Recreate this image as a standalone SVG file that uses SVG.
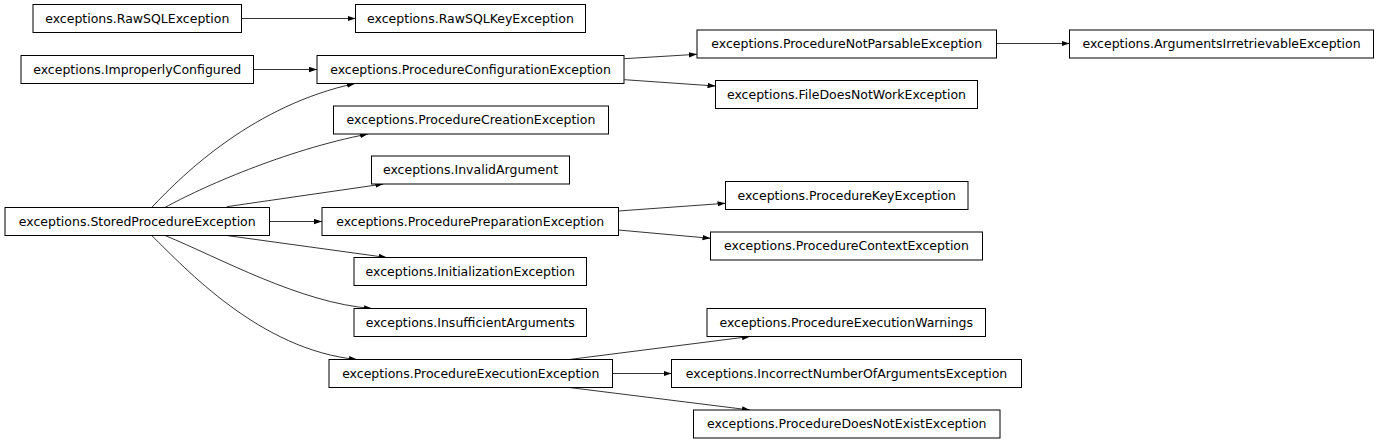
<svg xmlns="http://www.w3.org/2000/svg" width="1379" height="443" viewBox="0 0 1379 443">
<style>
.n rect{fill:#fff;stroke:#000;stroke-width:1}
.n text{font-family:"DejaVu Sans",sans-serif;font-size:12.5px;fill:#000;text-anchor:middle}
.e path{fill:none;stroke:#000;stroke-width:0.8;marker-end:url(#ah)}
</style>
<defs>
<marker id="ah" markerUnits="userSpaceOnUse" markerWidth="8" markerHeight="6" viewBox="0 0 8 5.4" refX="8" refY="2.7" orient="auto">
<path d="M0,0 L8,2.7 L0,5.4 z" fill="#000"/>
</marker>
</defs>
<rect width="1379" height="443" fill="#fff"/>
<g id="edges" class="e">
<path d="M241.5,18.5 L355.5,18.5"/>
<path d="M253.5,69.5 L317,69.5"/>
<path d="M624.3,58.7 L697,54.3"/>
<path d="M624.3,79.7 L715.5,86"/>
<path d="M996.5,43.5 L1069.5,43.5"/>
<path d="M151.7,207.5 C185,172 255,105 355,83.5"/>
<path d="M165,207.5 C200,188 285,150 368,134"/>
<path d="M226.7,206.7 L383.3,184"/>
<path d="M269.5,221.5 L322,221.5"/>
<path d="M226.7,235.5 L386.7,257.5"/>
<path d="M165,235.5 C220,258 300,303 372,308.5"/>
<path d="M151.7,235.5 C185,268 260,350 357,359.5"/>
<path d="M618.3,211 L725.5,203.3"/>
<path d="M618.3,230 L710.5,238.3"/>
<path d="M569.3,359.5 L750,336.5"/>
<path d="M612.5,373.5 L671.5,373.5"/>
<path d="M569.3,387.5 L750,410"/>
</g>
<g id="n1" class="n"><rect x="33" y="4.5" width="208.5" height="28"/><text x="137.25" y="22.9">exceptions.RawSQLException</text></g>
<g id="n2" class="n"><rect x="355.5" y="4.5" width="230" height="28"/><text x="470.5" y="22.9">exceptions.RawSQLKeyException</text></g>
<g id="n3" class="n"><rect x="21" y="55.5" width="232.5" height="28"/><text x="137.25" y="73.9">exceptions.ImproperlyConfigured</text></g>
<g id="n4" class="n"><rect x="317" y="55.5" width="307" height="28"/><text x="470.5" y="73.9">exceptions.ProcedureConfigurationException</text></g>
<g id="n5" class="n"><rect x="697" y="30" width="299.5" height="28"/><text x="846.75" y="48.4">exceptions.ProcedureNotParsableException</text></g>
<g id="n6" class="n"><rect x="1069.5" y="30" width="304" height="28"/><text x="1221.5" y="48.4">exceptions.ArgumentsIrretrievableException</text></g>
<g id="n7" class="n"><rect x="715.5" y="80.5" width="262" height="28"/><text x="846.5" y="98.9">exceptions.FileDoesNotWorkException</text></g>
<g id="n8" class="n"><rect x="333.5" y="106" width="275" height="28"/><text x="471" y="124.4">exceptions.ProcedureCreationException</text></g>
<g id="n9" class="n"><rect x="371.5" y="156" width="198" height="28"/><text x="470.5" y="174.4">exceptions.InvalidArgument</text></g>
<g id="n10" class="n"><rect x="5" y="207.5" width="264.5" height="28"/><text x="137.25" y="225.9">exceptions.StoredProcedureException</text></g>
<g id="n11" class="n"><rect x="322" y="207.5" width="296.5" height="28"/><text x="470.25" y="225.9">exceptions.ProcedurePreparationException</text></g>
<g id="n12" class="n"><rect x="725.5" y="181.5" width="242.5" height="28"/><text x="846.75" y="199.9">exceptions.ProcedureKeyException</text></g>
<g id="n13" class="n"><rect x="710.5" y="232" width="272" height="28"/><text x="846.5" y="250.4">exceptions.ProcedureContextException</text></g>
<g id="n14" class="n"><rect x="354" y="257.5" width="232.5" height="28"/><text x="470.25" y="275.9">exceptions.InitializationException</text></g>
<g id="n15" class="n"><rect x="354" y="308.5" width="232.5" height="28"/><text x="470.25" y="326.9">exceptions.InsufficientArguments</text></g>
<g id="n16" class="n"><rect x="329" y="359.5" width="283.5" height="28"/><text x="470.75" y="377.9">exceptions.ProcedureExecutionException</text></g>
<g id="n17" class="n"><rect x="707" y="308.5" width="278.5" height="28"/><text x="846.25" y="326.9">exceptions.ProcedureExecutionWarnings</text></g>
<g id="n18" class="n"><rect x="671.5" y="359.5" width="350" height="28"/><text x="846.5" y="377.9">exceptions.IncorrectNumberOfArgumentsException</text></g>
<g id="n19" class="n"><rect x="693.5" y="410" width="306.5" height="28"/><text x="846.75" y="428.4">exceptions.ProcedureDoesNotExistException</text></g>
</svg>
